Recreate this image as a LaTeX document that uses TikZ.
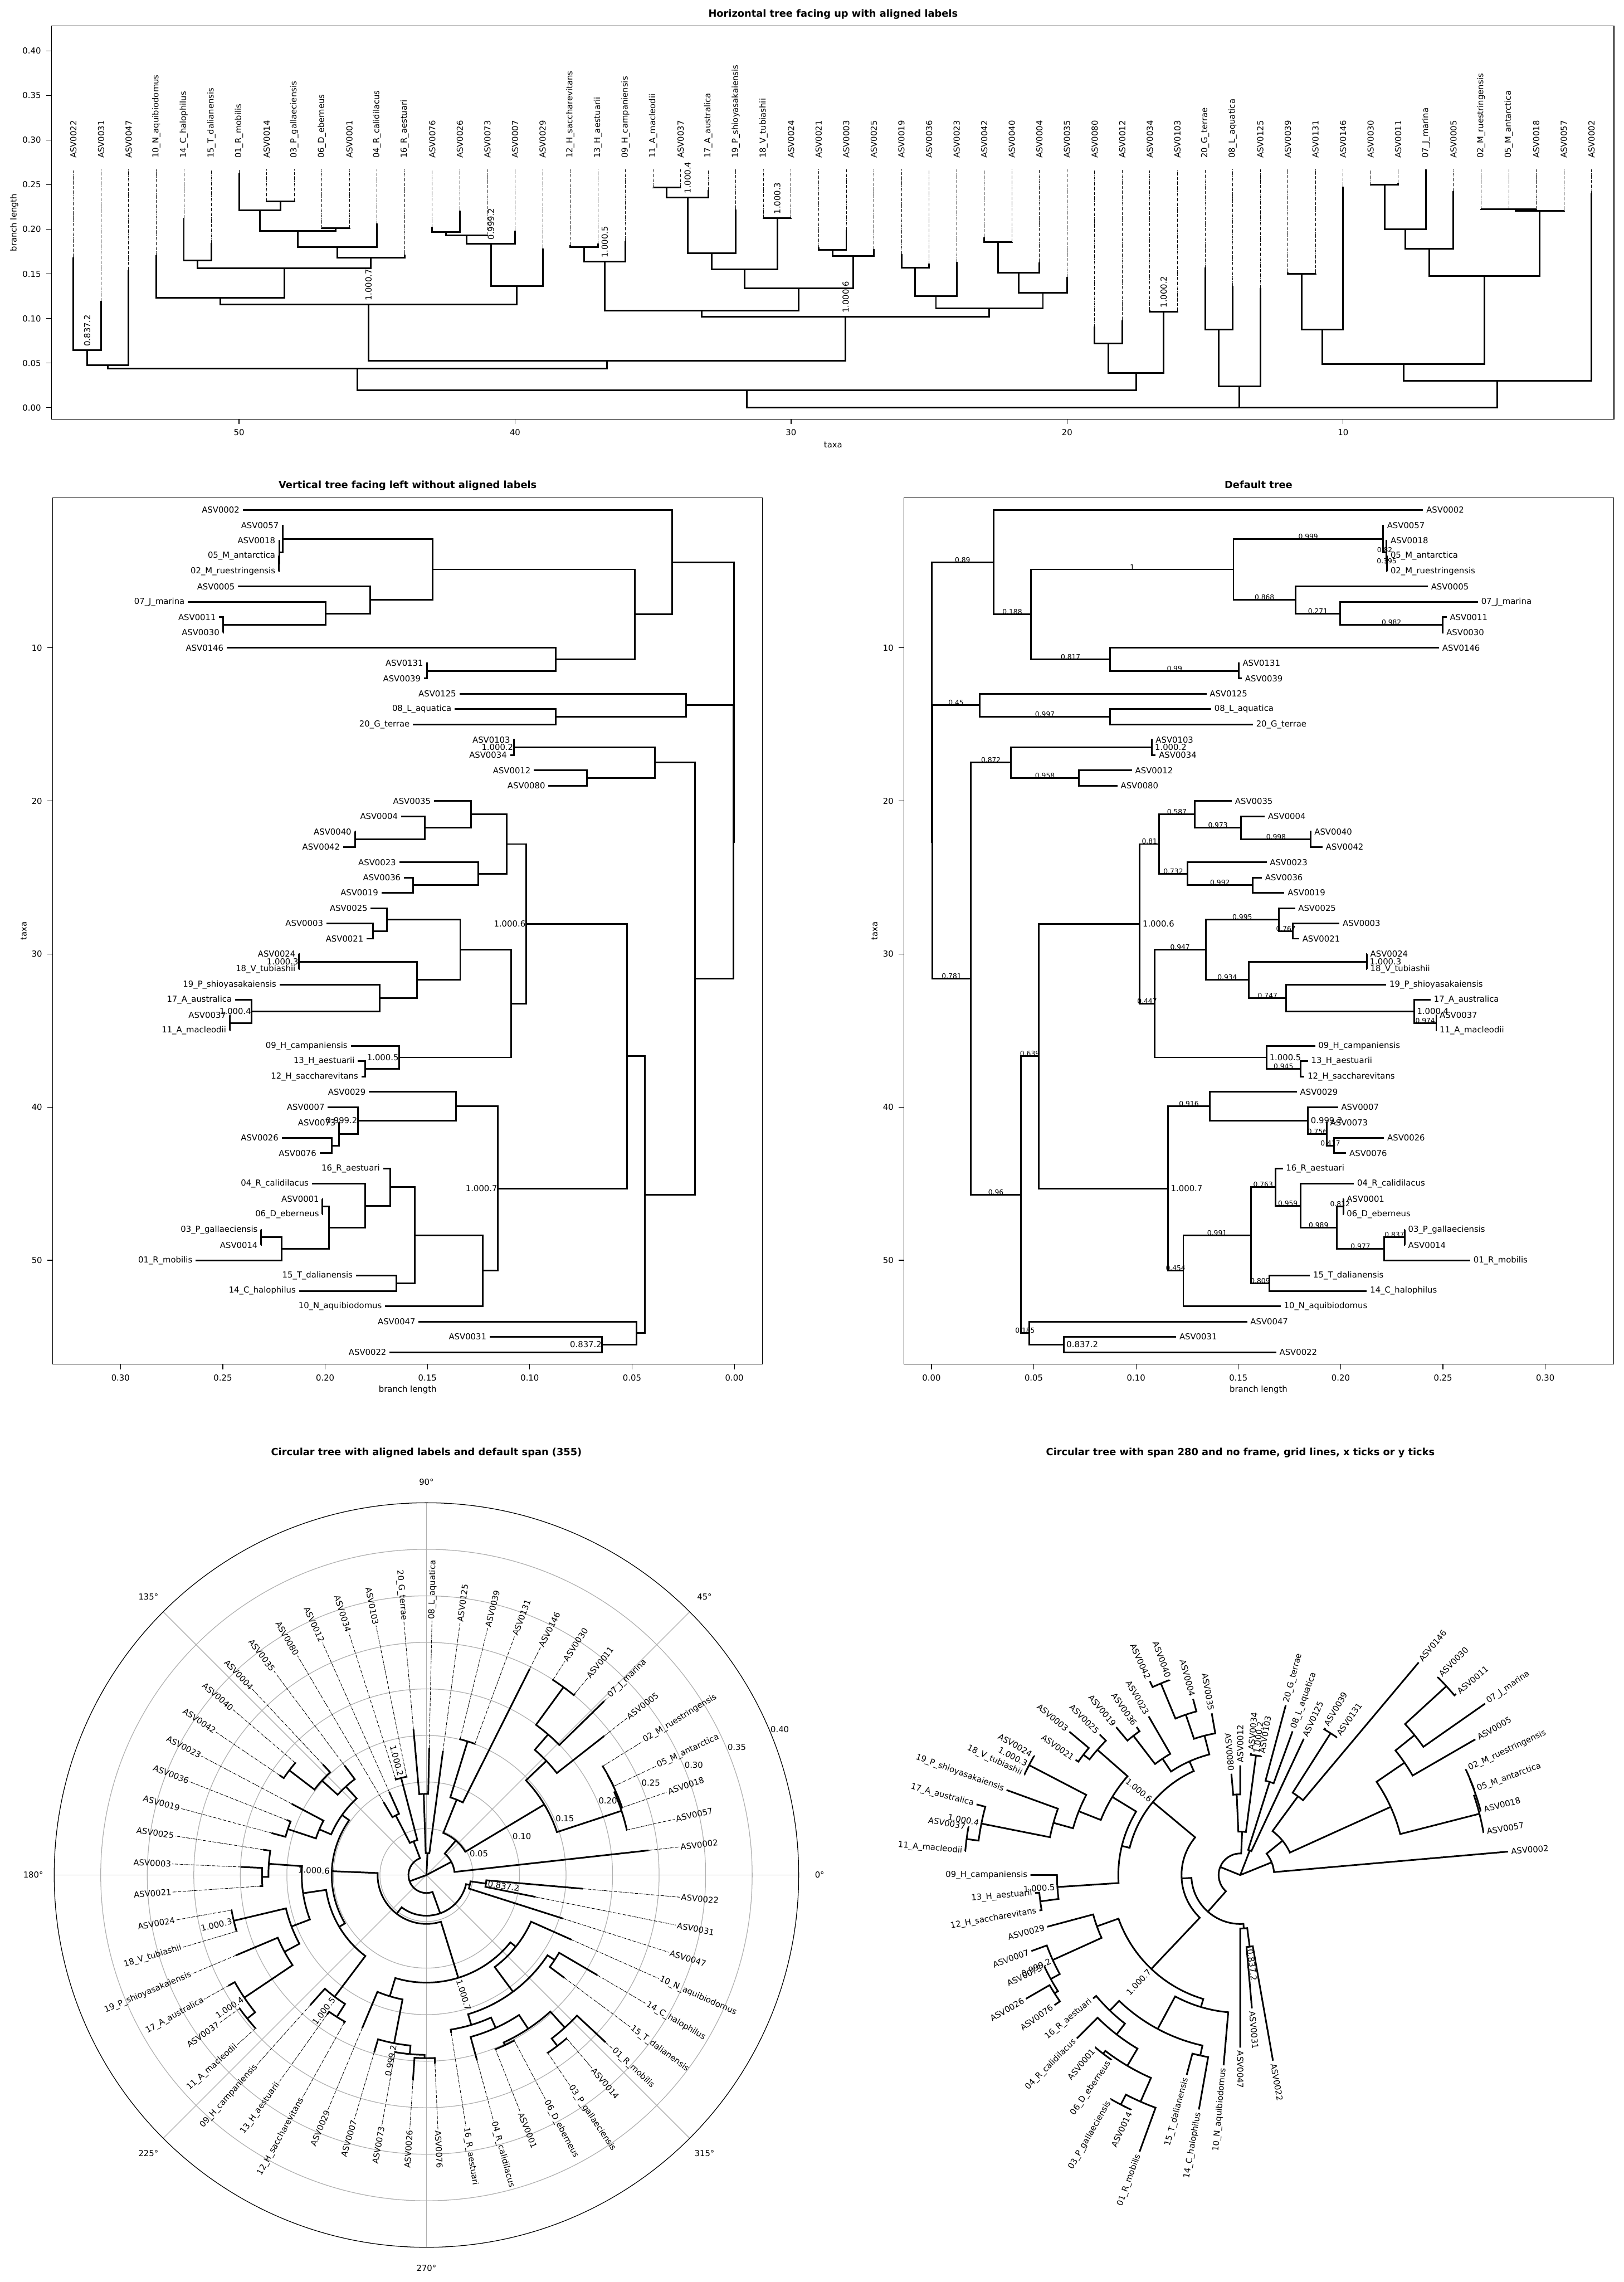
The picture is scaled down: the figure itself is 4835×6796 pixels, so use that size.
\documentclass[tikz,border=0pt]{standalone}
\usepackage{fontspec}
\setmainfont{DejaVu Sans}
\definecolor{gridgray}{HTML}{B0B0B0}

% --- Tree data: parent depth / parent row / child depth / child row ---
\def\nodeedges{0.0001/13.542/0.0303/4.406,0.0001/13.542/0.0004/22.677,
0.0303/4.406/0.0487/7.813,0.0487/7.813/0.1476/4.875,0.1476/4.875/0.2207/2.875,
0.2207/2.875/0.2224/3.75,0.2224/3.75/0.2226/4.5,0.1476/4.875/0.1779/6.875,
0.1779/6.875/0.1998/7.75,0.1998/7.75/0.2499/8.5,0.0487/7.813/0.0873/10.75,
0.0873/10.75/0.1503/11.5,0.0004/22.677/0.0236/13.75,0.0236/13.75/0.0873/14.5,
0.0004/22.677/0.0193/31.604,0.0193/31.604/0.0388/17.5,0.0388/17.5/0.1078/16.5,
0.0388/17.5/0.0721/18.5,0.0193/31.604/0.0437/45.708,0.0437/45.708/0.0525/36.666,
0.0525/36.666/0.1018/28.023,0.1018/28.023/0.1113/22.813,0.1113/22.813/0.1286/20.875,
0.1286/20.875/0.1514/21.75,0.1514/21.75/0.1854/22.5,0.1113/22.813/0.1251/24.75,
0.1251/24.75/0.1569/25.5,0.1018/28.023/0.1090/33.234,0.1090/33.234/0.1340/29.719,
0.1340/29.719/0.1698/27.75,0.1698/27.75/0.1767/28.5,0.1340/29.719/0.1552/31.688,
0.1552/31.688/0.2128/30.5,0.1552/31.688/0.1734/32.875,0.1734/32.875/0.2359/33.75,
0.2359/33.75/0.2467/34.5,0.1090/33.234/0.1638/36.75,0.1638/36.75/0.1803/37.5,
0.0525/36.666/0.1156/45.309,0.1156/45.309/0.1361/39.938,0.1361/39.938/0.1840/40.875,
0.1840/40.875/0.1932/41.75,0.1932/41.75/0.1968/42.5,0.1156/45.309/0.1231/50.680,
0.1231/50.680/0.1561/48.359,0.1561/48.359/0.1681/45.219,0.1681/45.219/0.1803/46.438,
0.1803/46.438/0.1981/47.875,0.1981/47.875/0.2013/46.5,0.1981/47.875/0.2213/49.25,
0.2213/49.25/0.2313/48.5,0.1561/48.359/0.1652/51.5,0.0437/45.708/0.0478/54.75,
0.0478/54.75/0.0646/55.5}

% --- Leaves: parent depth / parent row / tip depth / tip row / name ---
\def\leafedges{0.0303/4.406/0.2403/1/ASV0002,0.2207/2.875/0.2211/2/ASV0057,
0.2224/3.75/0.2228/3/ASV0018,0.2226/4.5/0.2228/4/05\_M\_antarctica,
0.2226/4.5/0.2228/5/02\_M\_ruestringensis,0.1779/6.875/0.2426/6/ASV0005,
0.1998/7.75/0.2671/7/07\_J\_marina,0.2499/8.5/0.2518/8/ASV0011,
0.2499/8.5/0.2501/9/ASV0030,0.0873/10.75/0.2481/10/ASV0146,
0.1503/11.5/0.1505/11/ASV0131,0.1503/11.5/0.1517/12/ASV0039,
0.0236/13.75/0.1344/13/ASV0125,0.0873/14.5/0.1367/14/08\_L\_aquatica,
0.0873/14.5/0.1571/15/20\_G\_terrae,0.1078/16.5/0.1080/16/ASV0103,
0.1078/16.5/0.1096/17/ASV0034,0.0721/18.5/0.0980/18/ASV0012,
0.0721/18.5/0.0909/19/ASV0080,0.1286/20.875/0.1468/20/ASV0035,
0.1514/21.75/0.1629/21/ASV0004,0.1854/22.5/0.1856/22/ASV0040,
0.1854/22.5/0.1912/23/ASV0042,0.1251/24.75/0.1638/24/ASV0023,
0.1569/25.5/0.1615/25/ASV0036,0.1569/25.5/0.1725/26/ASV0019,
0.1698/27.75/0.1777/27/ASV0025,0.1767/28.5/0.1994/28/ASV0003,
0.1767/28.5/0.1797/29/ASV0021,0.2128/30.5/0.2129/30/ASV0024,
0.2128/30.5/0.2129/31/18\_V\_tubiashii,0.1734/32.875/0.2223/32/19\_P\_shioyasakaiensis,
0.2359/33.75/0.2440/33/17\_A\_australica,0.2467/34.5/0.2468/34/ASV0037,
0.2467/34.5/0.2468/35/11\_A\_macleodii,0.1638/36.75/0.1875/36/09\_H\_campaniensis,
0.1803/37.5/0.1840/37/13\_H\_aestuarii,0.1803/37.5/0.1823/38/12\_H\_saccharevitans,
0.1361/39.938/0.1786/39/ASV0029,0.1840/40.875/0.1987/40/ASV0007,
0.1932/41.75/0.1933/41/ASV0073,0.1968/42.5/0.2212/42/ASV0026,
0.1968/42.5/0.2027/43/ASV0076,0.1681/45.219/0.1717/44/16\_R\_aestuari,
0.1803/46.438/0.2065/45/04\_R\_calidilacus,0.2013/46.5/0.2014/46/ASV0001,
0.2013/46.5/0.2014/47/06\_D\_eberneus,0.2313/48.5/0.2314/48/03\_P\_gallaeciensis,
0.2313/48.5/0.2314/49/ASV0014,0.2213/49.25/0.2633/50/01\_R\_mobilis,
0.1652/51.5/0.1850/51/15\_T\_dalianensis,0.1652/51.5/0.2128/52/14\_C\_halophilus,
0.1231/50.680/0.1707/53/10\_N\_aquibiodomus,0.0478/54.75/0.1543/54/ASV0047,
0.0646/55.5/0.1196/55/ASV0031,0.0646/55.5/0.1685/56/ASV0022}

% --- Named inner nodes: depth / row / name ---
\def\nodenames{0.1078/16.5/1.000.2,0.2128/30.5/1.000.3,0.2359/33.75/1.000.4,
0.1638/36.75/1.000.5,0.1018/28.023/1.000.6,0.1156/45.309/1.000.7,
0.1840/40.875/0.999.2,0.0646/55.5/0.837.2}

% --- Support values: parent depth / child depth / row / value ---
\def\supports{0.0001/0.0303/4.406/0.89,0.0303/0.0487/7.813/0.188,0.0487/0.1476/4.875/1,
0.1476/0.2207/2.875/0.999,0.2207/0.2224/3.75/0.82,0.2224/0.2226/4.5/0.395,
0.1476/0.1779/6.875/0.868,0.1779/0.1998/7.75/0.271,0.1998/0.2499/8.5/0.982,
0.0487/0.0873/10.75/0.817,0.0873/0.1503/11.5/0.99,0.0004/0.0236/13.75/0.45,
0.0236/0.0873/14.5/0.997,0.0004/0.0193/31.604/0.781,0.0193/0.0388/17.5/0.872,
0.0388/0.0721/18.5/0.958,0.0193/0.0437/45.708/0.96,0.0437/0.0525/36.666/0.639,
0.1018/0.1113/22.813/0.81,0.1113/0.1286/20.875/0.587,0.1286/0.1514/21.75/0.973,
0.1514/0.1854/22.5/0.998,0.1113/0.1251/24.75/0.732,0.1251/0.1569/25.5/0.992,
0.1018/0.1090/33.234/0.447,0.1090/0.1340/29.719/0.947,0.1340/0.1698/27.75/0.995,
0.1698/0.1767/28.5/0.767,0.1340/0.1552/31.688/0.934,0.1552/0.1734/32.875/0.747,
0.2359/0.2467/34.5/0.974,0.1638/0.1803/37.5/0.945,0.1156/0.1361/39.938/0.916,
0.1840/0.1932/41.75/0.756,0.1932/0.1968/42.5/0.417,0.1156/0.1231/50.680/0.454,
0.1231/0.1561/48.359/0.991,0.1561/0.1681/45.219/0.763,0.1681/0.1803/46.438/0.959,
0.1803/0.1981/47.875/0.989,0.1981/0.2013/46.5/0.812,0.1981/0.2213/49.25/0.977,
0.2213/0.2313/48.5/0.837,0.1561/0.1652/51.5/0.809,0.0437/0.0478/54.75/0.185}

% label along a radius, flipped on the left half
\newcommand\polarlab[4]{%
  \pgfmathtruncatemacro\flipit{cos(#1)<0}%
  \ifnum\flipit=1
    \node[#3, anchor=east, rotate=#1+180] at (#1:#2) {#4};%
  \else
    \node[#3, anchor=west, rotate=#1] at (#1:#2) {#4};%
  \fi}

\begin{document}
\begin{tikzpicture}[x=0.01cm, y=0.01cm,
    treeline/.style={line width=1.4pt, line join=miter},
    aligndash/.style={line width=0.45pt, dash pattern=on 2.6pt off 0.7pt on 0.45pt off 0.7pt},
    axframe/.style={line width=0.6pt},
    gridline/.style={draw=gridgray, line width=0.6pt},
    tiplab/.style={font=\fontsize{7}{8}\selectfont, inner sep=0pt},
    namelab/.style={font=\fontsize{7}{8}\selectfont, inner sep=0pt},
    suplab/.style={font=\fontsize{5.8}{7}\selectfont, inner sep=0pt},
    ticklab/.style={font=\fontsize{7}{8}\selectfont, inner sep=0pt},
    ptitle/.style={font=\fontsize{8.4}{10}\selectfont\bfseries, inner sep=0pt}
]
\useasboundingbox (0,0) rectangle (4835,-6796);

% --- Titles ---
\node[ptitle, anchor=base] at (2481,-50) {Horizontal tree facing up with aligned labels};
\node[ptitle, anchor=base] at (1214,-1455) {Vertical tree facing left without aligned labels};
\node[ptitle, anchor=base] at (3748,-1455) {Default tree};
\node[ptitle, anchor=base] at (1270,-4335) {Circular tree with aligned labels and default span (355)};
\node[ptitle, anchor=base] at (3694,-4335) {Circular tree with span 280 and no frame, grid lines, x ticks or y ticks};

% --- Axis labels ---
\node[ticklab, anchor=north] at (2481,-1315) {taxa};
\node[ticklab, rotate=90, anchor=south] at (55,-663) {branch length};
\node[ticklab, anchor=north] at (1214,-4126) {branch length};
\node[ticklab, rotate=90, anchor=south] at (80,-2772) {taxa};
\node[ticklab, anchor=north] at (3748,-4126) {branch length};
\node[ticklab, rotate=90, anchor=south] at (2614,-2772) {taxa};

% --- Horizontal tree facing up ---
\begin{scope}[shift={(4821.8,-1214)}, x=-0.8215cm, y=26.54cm]
  \foreach \pd/\py/\cd/\cy in \nodeedges {
    \draw[treeline] (\py,\pd) -| (\cy,\cd);
  }
  \foreach \pd/\py/\cd/\cy/\nm in \leafedges {
    \draw[treeline] (\py,\pd) -| (\cy,\cd);
    \draw[aligndash] (\cy,\cd) -- (\cy,0.2671);
    \node[tiplab, rotate=90, anchor=west] at (\cy,0.2795) {\nm};
  }
  \foreach \cd/\cy/\nm in \nodenames {
    \node[namelab, rotate=90, anchor=west] at (\cy,\cd+0.004) {\nm};
  }
  \draw[axframe] (56.8,-0.0128) rectangle (0.187,0.4281);
  \foreach \tk/\lab in {0/0.00,0.05/0.05,0.1/0.10,0.15/0.15,0.2/0.20,0.25/0.25,0.3/0.30,0.35/0.35,0.4/0.40} {
    \draw[axframe] (56.8,\tk) -- ++(-0.15cm,0) node[ticklab, anchor=east, xshift=-0.15cm] {\lab};
  }
  \foreach \tk in {10,20,30,40,50} {
    \draw[axframe] (\tk,-0.0128) -- ++(0,-0.15cm) node[ticklab, anchor=north, yshift=-0.15cm] {\tk};
  }
\end{scope}

% --- Vertical tree facing left ---
\begin{scope}[shift={(2187,-1473.4)}, x=-60.9cm, y=-0.4557cm]
  \foreach \pd/\py/\cd/\cy in \nodeedges {
    \draw[treeline] (\pd,\py) |- (\cd,\cy);
  }
  \foreach \pd/\py/\cd/\cy/\nm in \leafedges {
    \draw[treeline] (\pd,\py) |- (\cd,\cy);
    \node[tiplab, anchor=east, xshift=-0.09cm] at (\cd,\cy) {\nm};
  }
  \foreach \cd/\cy/\nm in \nodenames {
    \node[namelab, anchor=east, xshift=-0.01cm] at (\cd,\cy) {\nm};
  }
  \draw[axframe] (0.3332,0.21) rectangle (-0.01363,56.78);
  \foreach \tk/\lab in {0/0.00,0.05/0.05,0.1/0.10,0.15/0.15,0.2/0.20,0.25/0.25,0.3/0.30} {
    \draw[axframe] (\tk,56.78) -- ++(0,-0.15cm) node[ticklab, anchor=north, yshift=-0.15cm] {\lab};
  }
  \foreach \tk in {10,20,30,40,50} {
    \draw[axframe] (0.3332,\tk) -- ++(-0.15cm,0) node[ticklab, anchor=east, xshift=-0.15cm] {\tk};
  }
\end{scope}

% --- Default tree ---
\begin{scope}[shift={(2774,-1473.4)}, x=60.9cm, y=-0.4557cm]
  \foreach \pd/\py/\cd/\cy in \nodeedges {
    \draw[treeline] (\pd,\py) |- (\cd,\cy);
  }
  \foreach \pd/\py/\cd/\cy/\nm in \leafedges {
    \draw[treeline] (\pd,\py) |- (\cd,\cy);
    \node[tiplab, anchor=west, xshift=0.09cm] at (\cd,\cy) {\nm};
  }
  \foreach \cd/\cy/\nm in \nodenames {
    \node[namelab, anchor=west, xshift=0.08cm] at (\cd,\cy) {\nm};
  }
  \foreach \pd/\cd/\cy/\sv in \supports {
    \node[suplab, anchor=base] at ({(\pd+\cd)/2},\cy) {\sv};
  }
  \draw[axframe] (-0.01346,0.21) rectangle (0.3335,56.78);
  \foreach \tk/\lab in {0/0.00,0.05/0.05,0.1/0.10,0.15/0.15,0.2/0.20,0.25/0.25,0.3/0.30} {
    \draw[axframe] (\tk,56.78) -- ++(0,-0.15cm) node[ticklab, anchor=north, yshift=-0.15cm] {\lab};
  }
  \foreach \tk in {10,20,30,40,50} {
    \draw[axframe] (-0.01346,\tk) -- ++(-0.15cm,0) node[ticklab, anchor=east, xshift=-0.15cm] {\tk};
  }
\end{scope}

% --- Circular tree, span 355, aligned labels ---
\begin{scope}[shift={(1270,-5584)}, x=27.7cm, y=27.7cm]
  \def\stepang{6.339286}
  \foreach \rr in {0.05,0.1,0.15,0.2,0.25,0.3,0.35} {
    \draw[gridline] (0,0) circle[radius=\rr];
  }
  \foreach \ang in {0,45,...,315} {
    \draw[gridline] (0,0) -- (\ang:0.4);
    \node[ticklab] at (\ang:0.4225) {\ang°};
  }
  \foreach \rr/\lab in {0.05/0.05,0.1/0.10,0.15/0.15,0.2/0.20,0.25/0.25,0.3/0.30,0.35/0.35,0.4/0.40} {
    \node[ticklab, anchor=south west] at (22.5:\rr) {\lab};
  }
  \foreach \pd/\py/\cd/\cy in \nodeedges {
    \pgfmathsetmacro\tp{\py*\stepang}
    \pgfmathsetmacro\tc{\cy*\stepang}
    \draw[treeline] (\tp:\pd) arc[start angle=\tp, end angle=\tc, radius=\pd] -- (\tc:\cd);
  }
  \foreach \pd/\py/\cd/\cy/\nm in \leafedges {
    \pgfmathsetmacro\tp{\py*\stepang}
    \pgfmathsetmacro\tc{\cy*\stepang}
    \draw[treeline] (\tp:\pd) arc[start angle=\tp, end angle=\tc, radius=\pd] -- (\tc:\cd);
    \draw[aligndash] (\tc:\cd) -- (\tc:0.2735);
    \polarlab{\tc}{0.2745}{tiplab}{\nm}
  }
  \foreach \cd/\cy/\nm in \nodenames {
    \pgfmathsetmacro\tc{\cy*\stepang}
    \pgfmathsetmacro\rl{\cd+0.002}
    \polarlab{\tc}{\rl}{namelab}{\nm}
  }
  \draw[axframe] (0,0) circle[radius=0.4];
\end{scope}

% --- Circular tree, span 280, no frame ---
\begin{scope}[shift={(3693.6,-5584)}, x=33.3cm, y=33.3cm]
  \def\stepang{5}
  \foreach \pd/\py/\cd/\cy in \nodeedges {
    \pgfmathsetmacro\tp{\py*\stepang}
    \pgfmathsetmacro\tc{\cy*\stepang}
    \draw[treeline] (\tp:\pd) arc[start angle=\tp, end angle=\tc, radius=\pd] -- (\tc:\cd);
  }
  \foreach \pd/\py/\cd/\cy/\nm in \leafedges {
    \pgfmathsetmacro\tp{\py*\stepang}
    \pgfmathsetmacro\tc{\cy*\stepang}
    \pgfmathsetmacro\rl{\cd+0.0025}
    \draw[treeline] (\tp:\pd) arc[start angle=\tp, end angle=\tc, radius=\pd] -- (\tc:\cd);
    \polarlab{\tc}{\rl}{tiplab}{\nm}
  }
  \foreach \cd/\cy/\nm in \nodenames {
    \pgfmathsetmacro\tc{\cy*\stepang}
    \pgfmathsetmacro\rl{\cd+0.002}
    \polarlab{\tc}{\rl}{namelab}{\nm}
  }
\end{scope}

\end{tikzpicture}
\end{document}
